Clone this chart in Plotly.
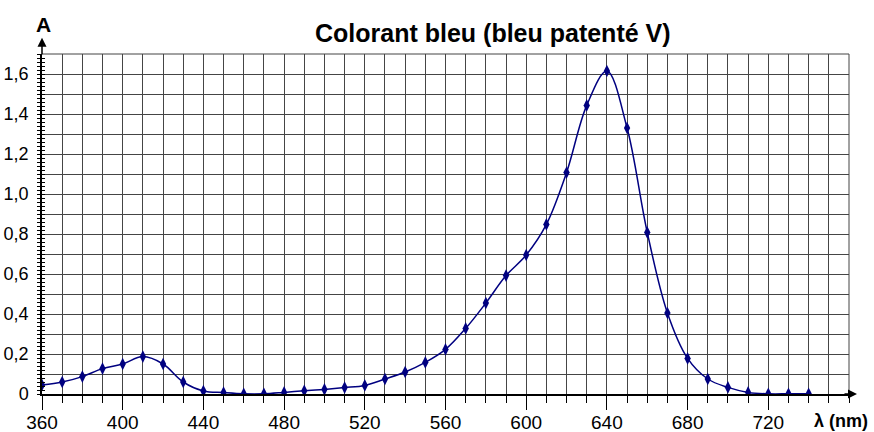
import plotly.graph_objects as go

# Data
wavelength = [360, 370, 380, 390, 400, 410, 420, 430, 440, 450, 460, 470, 480, 490,
              500, 510, 520, 530, 540, 550, 560, 570, 580, 590, 600, 610, 620, 630,
              640, 650, 660, 670, 680, 690, 700, 710, 720, 730, 740]
absorbance = [0.045, 0.060, 0.087, 0.127, 0.150, 0.187, 0.150, 0.060, 0.015, 0.007,
              0.001, 0.001, 0.008, 0.016, 0.023, 0.032, 0.043, 0.075, 0.110, 0.158,
              0.223, 0.328, 0.455, 0.592, 0.695, 0.848, 1.107, 1.443, 1.615, 1.330,
              0.808, 0.405, 0.178, 0.075, 0.033, 0.008, 0.001, 0.001, 0.001]

x_ticks = [360, 400, 440, 480, 520, 560, 600, 640, 680, 720]
x_labels = ["360", "400", "440", "480", "520", "560", "600", "640", "680", "720"]
y_grid = [round(i * 0.1, 1) for i in range(0, 18)]
y_labels = ["0", "", "0,2", "", "0,4", "", "0,6", "", "0,8", "", "1,0", "", "1,2", "",
            "1,4", "", "1,6", ""]

title_text = "Colorant bleu (bleu patenté V)"
y_title = "A"
x_title = "λ (nm)"

FONT = "Liberation Sans, Arial, sans-serif"
NAVY = "#000080"
GRID = "#454545"

fig = go.Figure()
fig.add_trace(go.Scatter(
    x=wavelength, y=absorbance, mode="lines+markers",
    line=dict(color=NAVY, width=1.5, shape="spline", smoothing=1),
    marker=dict(symbol="diamond-tall", size=9, color=NAVY),
    showlegend=False, hoverinfo="x+y",
))
# invisible trace on overlay axis to carry inside ticks
fig.add_trace(go.Scatter(x=[360], y=[0], yaxis="y2", mode="markers",
                         marker=dict(opacity=0), showlegend=False, hoverinfo="skip"))

fig.update_layout(
    width=874, height=432,
    margin=dict(l=42, r=25, t=54, b=38),
    paper_bgcolor="white", plot_bgcolor="white",
    font=dict(family=FONT, size=19, color="black"),
    xaxis=dict(
        range=[360, 760], tickmode="array", tickvals=x_ticks, ticktext=x_labels,
        showgrid=True, gridcolor=GRID, gridwidth=1,
        ticks="outside", ticklen=14, tickcolor="black", tickwidth=1,
        minor=dict(tick0=360, dtick=10, ticks="outside", ticklen=7, tickcolor="black",
                   showgrid=True, gridcolor=GRID, gridwidth=1),
        showline=True, linecolor="black", linewidth=1.5, mirror=False,
        zeroline=False, ticklabelstandoff=-4, automargin=False,
        tickfont=dict(family=FONT, size=19),
    ),
    yaxis=dict(
        range=[0, 1.7], tickmode="array", tickvals=y_grid, ticktext=y_labels,
        showgrid=True, gridcolor=GRID, gridwidth=1,
        ticks="outside", ticklen=3, tickcolor="black",
        minor=dict(dtick=0.02, ticks="outside", ticklen=3, tickcolor="black", showgrid=False),
        showline=True, linecolor="black", linewidth=1.5,
        zeroline=False, ticklabelstandoff=5, automargin=False,
        tickfont=dict(family=FONT, size=18),
    ),
    yaxis2=dict(
        range=[0, 1.7], overlaying="y", side="left", tickmode="array", tickvals=y_grid,
        ticks="inside", ticklen=3, tickcolor="black", showticklabels=False,
        minor=dict(dtick=0.02, ticks="inside", ticklen=3, tickcolor="black", showgrid=False),
        showgrid=False, zeroline=False, showline=False, automargin=False,
    ),
    shapes=[
        dict(type="line", xref="paper", yref="paper", x0=0, x1=1, y0=1, y1=1,
             line=dict(color=GRID, width=1)),
        dict(type="line", xref="paper", yref="paper", x0=1, x1=1, y0=0, y1=1,
             line=dict(color=GRID, width=1)),
    ],
    annotations=[
        dict(text="<b>" + title_text + "</b>", xref="paper", yref="paper",
             x=0.559, y=1.062, xanchor="center", yanchor="middle", showarrow=False,
             font=dict(family=FONT, size=25, color="black")),
        dict(text="<b>" + y_title + "</b>", xref="paper", yref="paper",
             x=0.002, y=1.088, xanchor="center", yanchor="middle", showarrow=False,
             font=dict(family=FONT, size=21, color="black")),
        dict(text="<b>" + x_title + "</b>", xref="paper", yref="paper",
             x=0.99, y=-0.079, xanchor="center", yanchor="middle", showarrow=False,
             font=dict(family=FONT, size=18, color="black")),
        # x-axis arrow
        dict(text="", xref="paper", yref="paper", x=1.0099, y=0, ax=-14, ay=0,
             showarrow=True, arrowhead=2, arrowsize=1.2, arrowwidth=1.5, arrowcolor="black",
             axref="pixel", ayref="pixel"),
        # y-axis arrow
        dict(text="", xref="paper", yref="paper", x=0, y=1.048, ax=0, ay=18,
             showarrow=True, arrowhead=2, arrowsize=1.2, arrowwidth=1.5, arrowcolor="black",
             axref="pixel", ayref="pixel"),
    ],
)

# remove the default 8px page margin so the figure fills the window exactly
fig.write_html("out.html", config={"displayModeBar": False},
               post_script="document.body.style.margin='0';")
